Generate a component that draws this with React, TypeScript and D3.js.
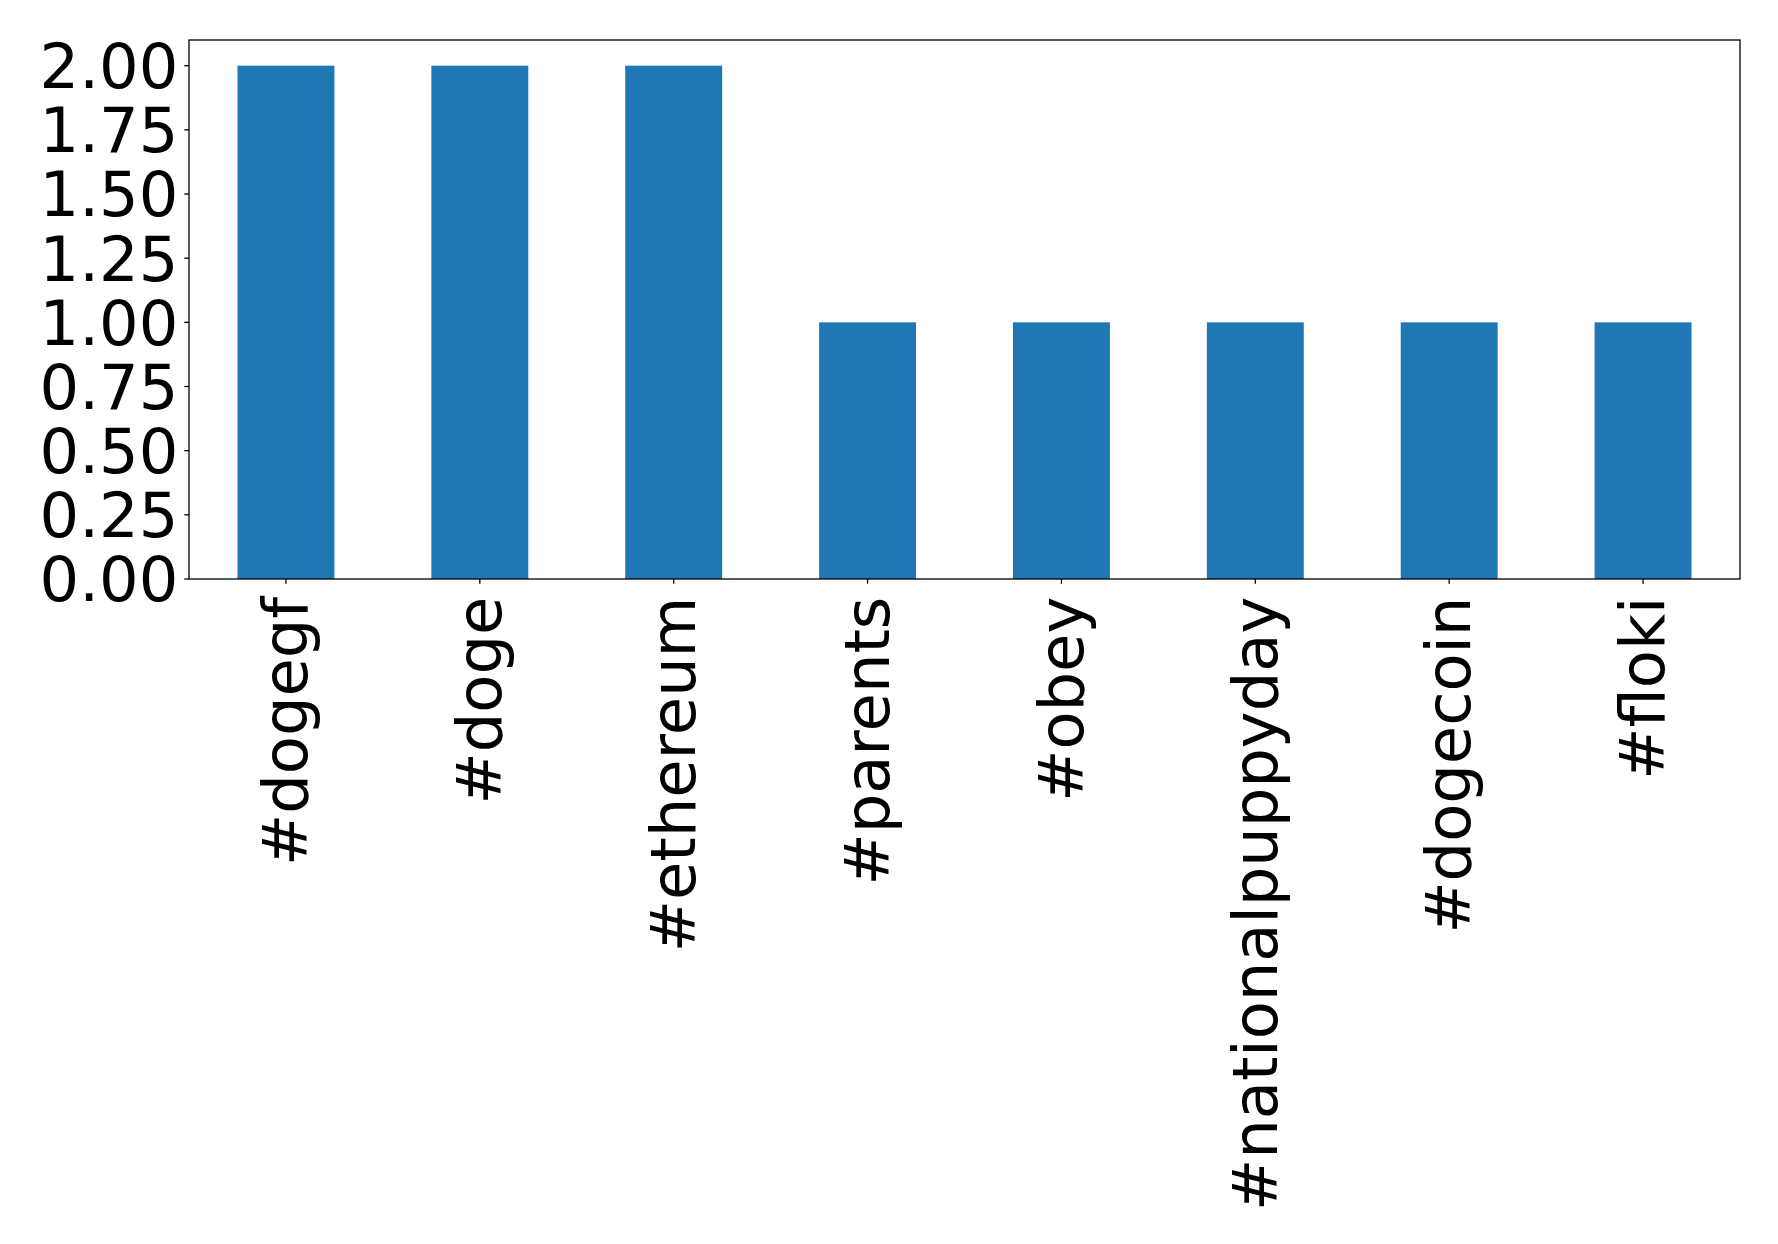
import React from "react";
import * as d3 from "d3";

const categories = ["#dogegf", "#doge", "#ethereum", "#parents", "#obey", "#nationalpuppyday", "#dogecoin", "#floki"];
const values = [2, 2, 2, 1, 1, 1, 1, 1];
const yTicks = [0, 0.25, 0.5, 0.75, 1.0, 1.25, 1.5, 1.75, 2.0];

const W = 1778;
const H = 1244;
const M = { left: 189, top: 40, right: 1740, bottom: 579 };
const FONT = "DejaVu Sans";
const FS = 62.3;

export default function App() {
  const x = d3.scaleBand<string>().domain(categories).range([M.left, M.right]).paddingInner(0.5).paddingOuter(0.25);
  const yMax = d3.max(values)! * 1.05;
  const y = d3.scaleLinear().domain([0, yMax]).range([M.bottom, M.top]);
  const tickLen = 4.7;
  return (
    <svg width={W} height={H} style={{ position: "absolute", left: 0, top: 0, background: "#fff" }}>
      <rect x={0} y={0} width={W} height={H} fill="#fff" />
      {categories.map((c, i) => (
        <rect key={c} x={x(c)!} y={y(values[i])} width={x.bandwidth()} height={y(0) - y(values[i])} fill="#1f77b4" />
      ))}
      <rect x={M.left} y={M.top} width={M.right - M.left} height={M.bottom - M.top} fill="none" stroke="#000" strokeWidth={1.3} />
      {yTicks.map((t) => (
        <g key={t}>
          <line x1={M.left - tickLen} x2={M.left} y1={y(t)} y2={y(t)} stroke="#000" strokeWidth={1.3} />
          <text x={M.left - tickLen - 6} y={y(t)} dy="0.36em" textAnchor="end" fontFamily={FONT} fontSize={FS} fill="#000">
            {t.toFixed(2)}
          </text>
        </g>
      ))}
      {categories.map((c) => {
        const cx = x(c)! + x.bandwidth() / 2;
        return (
          <g key={c}>
            <line x1={cx} x2={cx} y1={M.bottom} y2={M.bottom + tickLen} stroke="#000" strokeWidth={1.3} />
            <text
              transform={`translate(${cx + 21.3},${M.bottom + tickLen + 13}) rotate(-90)`}
              textAnchor="end"
              fontFamily={FONT}
              fontSize={FS}
              fill="#000"
            >
              {c}
            </text>
          </g>
        );
      })}
    </svg>
  );
}
